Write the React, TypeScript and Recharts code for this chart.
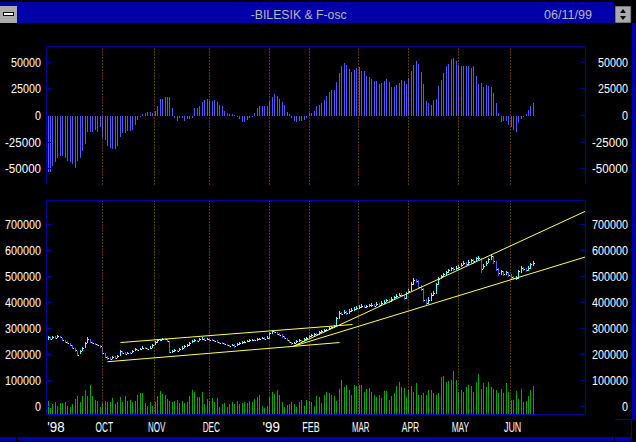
import { ComposedChart, Bar, XAxis, YAxis, ReferenceLine } from 'recharts'

// oscillator (F-osc), one value per trading day, Sep '98 .. Jun 11 '99
const OSC = [
  -53400, -52800, -48000, -44000, -39600, -37700, -37700, -40200, -42400, -44000,
  -45500, -49600, -43300, -40200, -33900, -26700, -15700, -15700, -15700, -13500,
  -15700, -11300, -21400, -22900, -28300, -30800, -31400, -31400, -29200, -20700,
  -16600, -16600, -15000, -14400, -13800, -8800, -4100, -900, 1000, 2500,
  3100, 3100, 2200, 3800, 8500, 15700, 15700, 17600, 17600, 17600,
  7500, -1900, -5000, -2500, -1900, -5000, -3100, -3000, -1900, 7500,
  7500, 9100, 12600, 14800, 15700, 13800, 13800, 14400, 12600, 10000,
  8500, 4400, 1900, 1300, 1600, 600, -1500, -3100, -6300, -6300,
  -4100, -1900, -600, 2500, 6900, 8500, 9100, 8500, 9100, 13200,
  17000, 20100, 18200, 15700, 12600, 10000, 3500, 1600, -1900, -5000,
  -6300, -5500, -5000, -4100, -1900, 2200, 2800, 4400, 8500, 10000,
  12200, 14800, 18800, 21700, 23600, 24200, 31100, 39900, 46200, 49300,
  47700, 44000, 41400, 43000, 45200, 45800, 42100, 42100, 37400, 35800,
  34000, 32700, 32700, 29800, 31000, 32700, 34200, 31400, 27300, 26400,
  28300, 30500, 33600, 32700, 29800, 35200, 42100, 47700, 51500, 48400,
  41400, 29800, 13200, 11600, 10000, 14800, 15700, 27900, 33600, 40200,
  46800, 48700, 53400, 54600, 50900, 47700, 47100, 47100, 46200, 46200,
  45200, 46800, 37400, 29800, 30500, 27000, 28900, 28000, 27000, 21400,
  12200, 1900, -5700, -5000, -5000, -8800, -11300, -13500, -16000, -6600,
  -3100, -900, 1300, 5000, 9100, 11600,
]

// volume (unscaled units)
const VOLUME = [
  14, 6.7, 10.7, 12.3, 9, 11.3, 11.3, 12.3, 9, 8,
  10.7, 15.7, 19, 12.3, 19, 24.7, 19, 30, 19, 14.7,
  14, 8, 11.3, 14, 12.3, 12.3, 16.7, 10.7, 12.3, 18,
  13, 19, 14, 14.7, 12.3, 14, 20, 21.3, 21.3, 11.3,
  9, 12.3, 9, 12.3, 19, 24, 20.7, 20, 15.7, 14,
  13, 14, 14.7, 11.3, 14, 11.3, 12.3, 19, 24.7, 22.3,
  17.3, 17.3, 22.3, 10.7, 15.7, 14, 16.7, 12.3, 16.7, 8,
  10.7, 11.3, 8, 10.7, 12.3, 10.7, 14, 10.7, 11.3, 12.3,
  11.3, 14, 12.3, 15.7, 18, 20, 9, 6.7, 9, 18,
  22.3, 20.7, 25, 20, 12.3, 8, 10, 10.7, 12.3, 10.7,
  8, 12.3, 15, 9, 15, 13.3, 12.3, 9,
  19, 18, 11.3, 20, 22.3, 21.3, 20, 19, 13.3, 25.7,
  35, 28, 30, 25, 20, 30, 29, 30, 30, 23,
  25.7, 26.3, 23, 20, 18, 20, 16.3, 24, 24, 14.7,
  18.3, 21.3, 29, 33, 27.3, 27, 17.3, 24.7, 29, 22.3,
  31.3, 20, 20, 21.3, 20, 24.7, 24.7, 21.3, 20, 22,
  38, 39, 33, 33.3, 34.7, 43.3, 34.7, 22.3, 24.7, 23,
  27.3, 30, 29, 22.3, 32.3, 40.7, 25.7, 31.3, 27.3, 33,
  28, 25.7, 24.7, 21.3, 25.7, 21.3, 31.3, 22.3, 15, 15,
  24, 15.7, 25.7, 13, 14, 19, 24.7, 29,
]

// index prices, thousands
const CLOSE = [
  268, 262, 270, 266, 272, 268, 258, 250, 246, 238,
  228, 218, 200, 214, 228, 245, 262, 250, 244, 240,
  236, 232, 208, 190, 186, 184, 192, 188, 196, 214,
  206, 204, 208, 206, 216, 222, 218, 224, 228, 226,
  224, 228, 236, 248, 256, 258, 262, 260, 254, 210,
  214, 218, 216, 222, 228, 232, 236, 246, 252, 256,
  254, 260, 262, 258, 262, 258, 256, 254, 250, 246,
  244, 240, 236, 234, 238, 232, 240, 244, 248, 250,
  252, 256, 258, 256, 260, 262, 264, 262, 266, 282,
  290, 286, 280, 276, 272, 266, 256, 250, 244, 246,
  252, 256, 254, 260, 266, 272, 276, 280, 278, 286,
  290, 294, 296, 302, 308, 312, 340, 362, 358, 364,
  360, 368, 372, 376, 380, 384, 388, 382, 386, 390,
  392, 388, 396, 392, 400, 404, 410, 406, 414, 420,
  426, 430, 428, 418, 436, 446, 470, 488, 484, 462,
  452, 410, 398, 412, 430, 436, 470, 492, 502, 510,
  516, 524, 532, 528, 534, 538, 546, 552, 548, 556,
  562, 558, 570, 572, 530, 540, 552, 566, 578, 560,
  530, 512, 520, 510, 516, 508, 500, 494, 496, 520,
  534, 528, 524, 534, 548, 552,
]

const HIGH = [
  272, 268, 274, 272, 276, 274, 266, 256, 252, 246,
  236, 226, 214, 218, 230, 248, 268, 262, 250, 246,
  242, 238, 230, 206, 194, 190, 196, 194, 198, 218,
  214, 210, 212, 210, 220, 226, 224, 228, 232, 230,
  228, 232, 240, 252, 260, 262, 266, 264, 262, 252,
  218, 222, 220, 226, 232, 236, 240, 250, 256, 260,
  258, 264, 268, 264, 266, 264, 260, 258, 256, 250,
  248, 246, 240, 238, 242, 240, 244, 248, 252, 254,
  256, 260, 262, 262, 264, 266, 268, 268, 272, 288,
  296, 294, 288, 282, 278, 272, 266, 258, 250, 250,
  256, 260, 258, 264, 270, 276, 280, 284, 284, 290,
  294, 298, 300, 306, 312, 316, 346, 368, 366, 370,
  368, 374, 378, 382, 386, 390, 394, 392, 392, 396,
  398, 396, 402, 400, 406, 410, 416, 414, 420, 426,
  432, 436, 436, 430, 442, 452, 478, 496, 492, 486,
  466, 456, 414, 420, 436, 444, 474, 498, 508, 514,
  520, 528, 536, 536, 540, 544, 552, 558, 556, 562,
  568, 566, 576, 580, 572, 548, 560, 572, 588, 580,
  560, 532, 526, 522, 522, 516, 510, 504, 504, 526,
  540, 538, 532, 540, 554, 560,
]

const LOW = [
  258, 258, 262, 262, 266, 264, 254, 246, 240, 234,
  224, 212, 196, 204, 214, 226, 244, 246, 240, 236,
  232, 226, 204, 186, 182, 180, 184, 184, 188, 196,
  202, 200, 202, 202, 206, 214, 214, 218, 222, 222,
  220, 222, 228, 236, 246, 252, 256, 256, 250, 206,
  206, 212, 212, 214, 220, 226, 230, 234, 244, 250,
  250, 252, 256, 254, 256, 254, 252, 250, 246, 242,
  240, 236, 232, 230, 232, 228, 232, 238, 242, 246,
  248, 250, 252, 252, 254, 258, 260, 258, 260, 262,
  280, 282, 276, 272, 266, 260, 252, 246, 238, 240,
  244, 250, 250, 252, 258, 266, 270, 274, 274, 276,
  284, 288, 290, 294, 302, 304, 312, 336, 352, 356,
  354, 358, 364, 368, 372, 376, 380, 378, 378, 382,
  384, 382, 386, 388, 392, 396, 402, 400, 404, 410,
  418, 424, 420, 410, 416, 436, 444, 466, 474, 456,
  446, 404, 392, 396, 406, 426, 434, 466, 490, 500,
  506, 512, 520, 522, 526, 528, 536, 544, 540, 546,
  552, 550, 556, 562, 512, 528, 540, 552, 562, 550,
  520, 504, 506, 502, 506, 498, 490, 486, 488, 492,
  514, 520, 516, 522, 530, 540,
]

const MONTH_TICKS = [0, 22, 43, 65, 89, 105, 125, 145, 165, 186]
const MONTH_LABELS = ["'98", 'OCT', 'NOV', 'DEC', "'99", 'FEB', 'MAR', 'APR', 'MAY', 'JUN']
const MONTH_LINES = MONTH_TICKS.slice(1)

const OSC_TICKS = [-50000, -25000, 0, 25000, 50000]
const PRICE_TICKS = [0, 100000, 200000, 300000, 400000, 500000, 600000, 700000]

// hand drawn trend lines (bar index, price)
const TRENDS = [
  [{ x: 24, y: 173400 }, { x: 117.2, y: 247100 }],
  [{ x: 29.2, y: 247100 }, { x: 122.4, y: 316200 }],
  [{ x: 98.7, y: 232900 }, { x: 216, y: 750900 }],
  [{ x: 98.7, y: 232900 }, { x: 216, y: 575600 }],
]

const FRAME = '#0000AA'
const GRID = '#C06C00'
const FONT = '"Liberation Sans", Arial, sans-serif'
const X_DOMAIN = [-0.5, 216]

const rows = CLOSE.map((c, i) => ({
  i,
  osc: OSC[i],
  vol: VOLUME[i],
  range: [LOW[i] * 1000, HIGH[i] * 1000],
  close: c * 1000,
  up: i === 0 || c >= CLOSE[i - 1],
}))

function stick(color: string) {
  return (p: any) => {
    const cx = Math.floor(p.x + p.width / 2)
    const y0 = Math.round(Math.min(p.y, p.y + p.height))
    const y1 = Math.round(Math.max(p.y, p.y + p.height))
    return <rect x={cx} y={y0} width={1} height={Math.max(1, y1 - y0)} fill={color} />
  }
}

function PriceBar(p: any) {
  const cx = Math.floor(p.x + p.width / 2)
  const top = Math.min(p.y, p.y + p.height)
  const h = Math.abs(p.height)
  const [lo, hi] = p.payload.range
  const cy = Math.round(top + ((hi - p.payload.close) / (hi - lo)) * h)
  const y0 = Math.round(top)
  return (
    <g>
      <rect x={cx} y={y0} width={1} height={Math.max(1, Math.round(top + h) - y0)} fill={p.payload.up ? '#55FFFF' : '#5555FF'} />
      <rect x={cx + 1} y={cy} width={1} height={1} fill="#FFFFFF" />
    </g>
  )
}

// month separators, snapped to a pixel column so the dots stay sharp
function Dotted(p: any) {
  const x = Math.floor(p.x1) + 0.5
  return <line x1={x} x2={x} y1={p.y1} y2={p.y2} stroke={GRID} strokeDasharray="1 2" />
}

function LeftTick({ x, y, payload }: any) {
  const yy = Math.floor(y) + 0.5
  const s = String(payload.value)
  return (
    <g>
      <line x1={x} x2={x + 5} y1={yy} y2={yy} stroke={FRAME} />
      <text x={x - 5.5} y={yy + 4.3} textAnchor="end" fill="#fff" fontSize={12} fontFamily={FONT} textLength={s.length * 6} lengthAdjust="spacingAndGlyphs">{s}</text>
    </g>
  )
}

function RightTick({ x, y, payload }: any) {
  const yy = Math.floor(y) + 0.5
  const s = String(payload.value)
  return (
    <g>
      <line x1={x - 5} x2={x} y1={yy} y2={yy} stroke={FRAME} />
      <text x={x + 42.5} y={yy + 4.3} textAnchor="end" fill="#fff" fontSize={12} fontFamily={FONT} textLength={s.length * 6} lengthAdjust="spacingAndGlyphs">{s}</text>
    </g>
  )
}

function MonthTick({ x, y, payload }: any) {
  const k = MONTH_TICKS.indexOf(payload.value)
  const label = MONTH_LABELS[k] ?? ''
  const first = k === 0
  return (
    <text x={first ? x - 0.5 : x + 1.8} y={y + 17} textAnchor={first ? 'start' : 'middle'} fill="#fff" fontSize={14} fontFamily={FONT} textLength={label.length * 5.8} lengthAdjust="spacingAndGlyphs">{label}</text>
  )
}

function Chrome() {
  return (
    <svg width={636} height={442} style={{ position: 'absolute', left: 0, top: 0, pointerEvents: 'none' }}>
      <rect x={0} y={2} width={614} height={3} fill={FRAME} />
      <rect x={0} y={6} width={632} height={17} fill={FRAME} />
      <rect x={0} y={6} width={17} height={17} fill="#AAAAAA" />
      <rect x={3.5} y={12.5} width={10} height={3} fill="#FFFFFF" stroke="#000" />
      <rect x={615} y={6} width={16} height={17} fill="#AAAAAA" stroke="#000" strokeWidth={0.6} />
      <path d="M623 9 L626 13 L620 13 Z M623 20 L626 16 L620 16 Z" fill="#000" />
      <text x={298.7} y={19} textAnchor="middle" fill="#B8B8B8" fontSize={13} fontFamily={FONT} textLength={96} lengthAdjust="spacingAndGlyphs">-BILESIK &amp; F-osc</text>
      <text x={544} y={19} fill="#B8B8B8" fontSize={13} fontFamily={FONT} textLength={48} lengthAdjust="spacingAndGlyphs">06/11/99</text>
      <rect x={632} y={23} width={4} height={396} fill={FRAME} />
      <rect x={615} y={419} width={21} height={1} fill={FRAME} />
      <rect x={631} y={419} width={1} height={22} fill={FRAME} />
      <rect x={0} y={437} width={16} height={4} fill={FRAME} />
      <rect x={18} y={437} width={596} height={4} fill={FRAME} />
      <rect x={615} y={437} width={16} height={4} fill={FRAME} />
    </svg>
  )
}

export default function App() {
  return (
    <div style={{ position: 'relative', width: 636, height: 442, background: '#000', overflow: 'hidden' }}>
      <style>{'body{margin:0;background:#000}'}</style>

      <div style={{ position: 'absolute', left: 0, top: 0 }}>
        <ComposedChart width={636} height={195} data={rows} margin={{ top: 46.5, right: 0.5, bottom: 10.5, left: 0.5 }}>
          <XAxis dataKey="i" type="number" domain={X_DOMAIN} allowDataOverflow height={0} tick={false} tickLine={false} axisLine={{ stroke: FRAME }} />
          <YAxis yAxisId="osc" domain={[-65000, 65000]} allowDataOverflow ticks={OSC_TICKS} width={46} tickSize={0} tickMargin={0} tickLine={false} axisLine={{ stroke: FRAME }} tick={<LeftTick />} />
          <YAxis yAxisId="oscR" orientation="right" domain={[-65000, 65000]} allowDataOverflow ticks={OSC_TICKS} width={50} tickSize={0} tickMargin={0} tickLine={false} axisLine={{ stroke: FRAME }} tick={<RightTick />} />
          {MONTH_LINES.map(m => (
            <ReferenceLine key={m} x={m} yAxisId="osc" shape={Dotted} />
          ))}
          <ReferenceLine y={65000} yAxisId="osc" stroke={FRAME} ifOverflow="visible" />
          <Bar dataKey="osc" yAxisId="osc" barSize={1} shape={stick('#5555FF')} isAnimationActive={false} />
        </ComposedChart>
      </div>

      <div style={{ position: 'absolute', left: 0, top: 195 }}>
        <ComposedChart width={636} height={247} data={rows} margin={{ top: 5.5, right: 0.5, bottom: 0, left: 0.5 }}>
          <XAxis dataKey="i" type="number" domain={X_DOMAIN} allowDataOverflow ticks={MONTH_TICKS} interval={0} height={27.5} tickSize={0} tickMargin={0} tickLine={false} axisLine={{ stroke: FRAME }} tick={<MonthTick />} />
          <XAxis xAxisId="v" dataKey="i" type="number" domain={X_DOMAIN} allowDataOverflow hide />
          <YAxis yAxisId="price" domain={[-29000, 792000]} allowDataOverflow ticks={PRICE_TICKS} width={46} tickSize={0} tickMargin={0} tickLine={false} axisLine={{ stroke: FRAME }} tick={<LeftTick />} />
          <YAxis yAxisId="priceR" orientation="right" domain={[-29000, 792000]} allowDataOverflow ticks={PRICE_TICKS} width={50} tickSize={0} tickMargin={0} tickLine={false} axisLine={{ stroke: FRAME }} tick={<RightTick />} />
          <YAxis yAxisId="vol" domain={[0, 214]} allowDataOverflow hide />
          {MONTH_LINES.map(m => (
            <ReferenceLine key={m} x={m} yAxisId="price" shape={Dotted} />
          ))}
          <ReferenceLine y={792000} yAxisId="price" stroke={FRAME} ifOverflow="visible" />
          <Bar xAxisId="v" yAxisId="vol" dataKey="vol" barSize={1} shape={stick('#00AA00')} isAnimationActive={false} />
          <Bar yAxisId="price" dataKey="range" barSize={1} shape={PriceBar} isAnimationActive={false} />
          {TRENDS.map((seg, k) => (
            <ReferenceLine key={k} yAxisId="price" segment={seg} stroke="#FFFF55" ifOverflow="visible" />
          ))}
        </ComposedChart>
      </div>

      <Chrome />
    </div>
  )
}
